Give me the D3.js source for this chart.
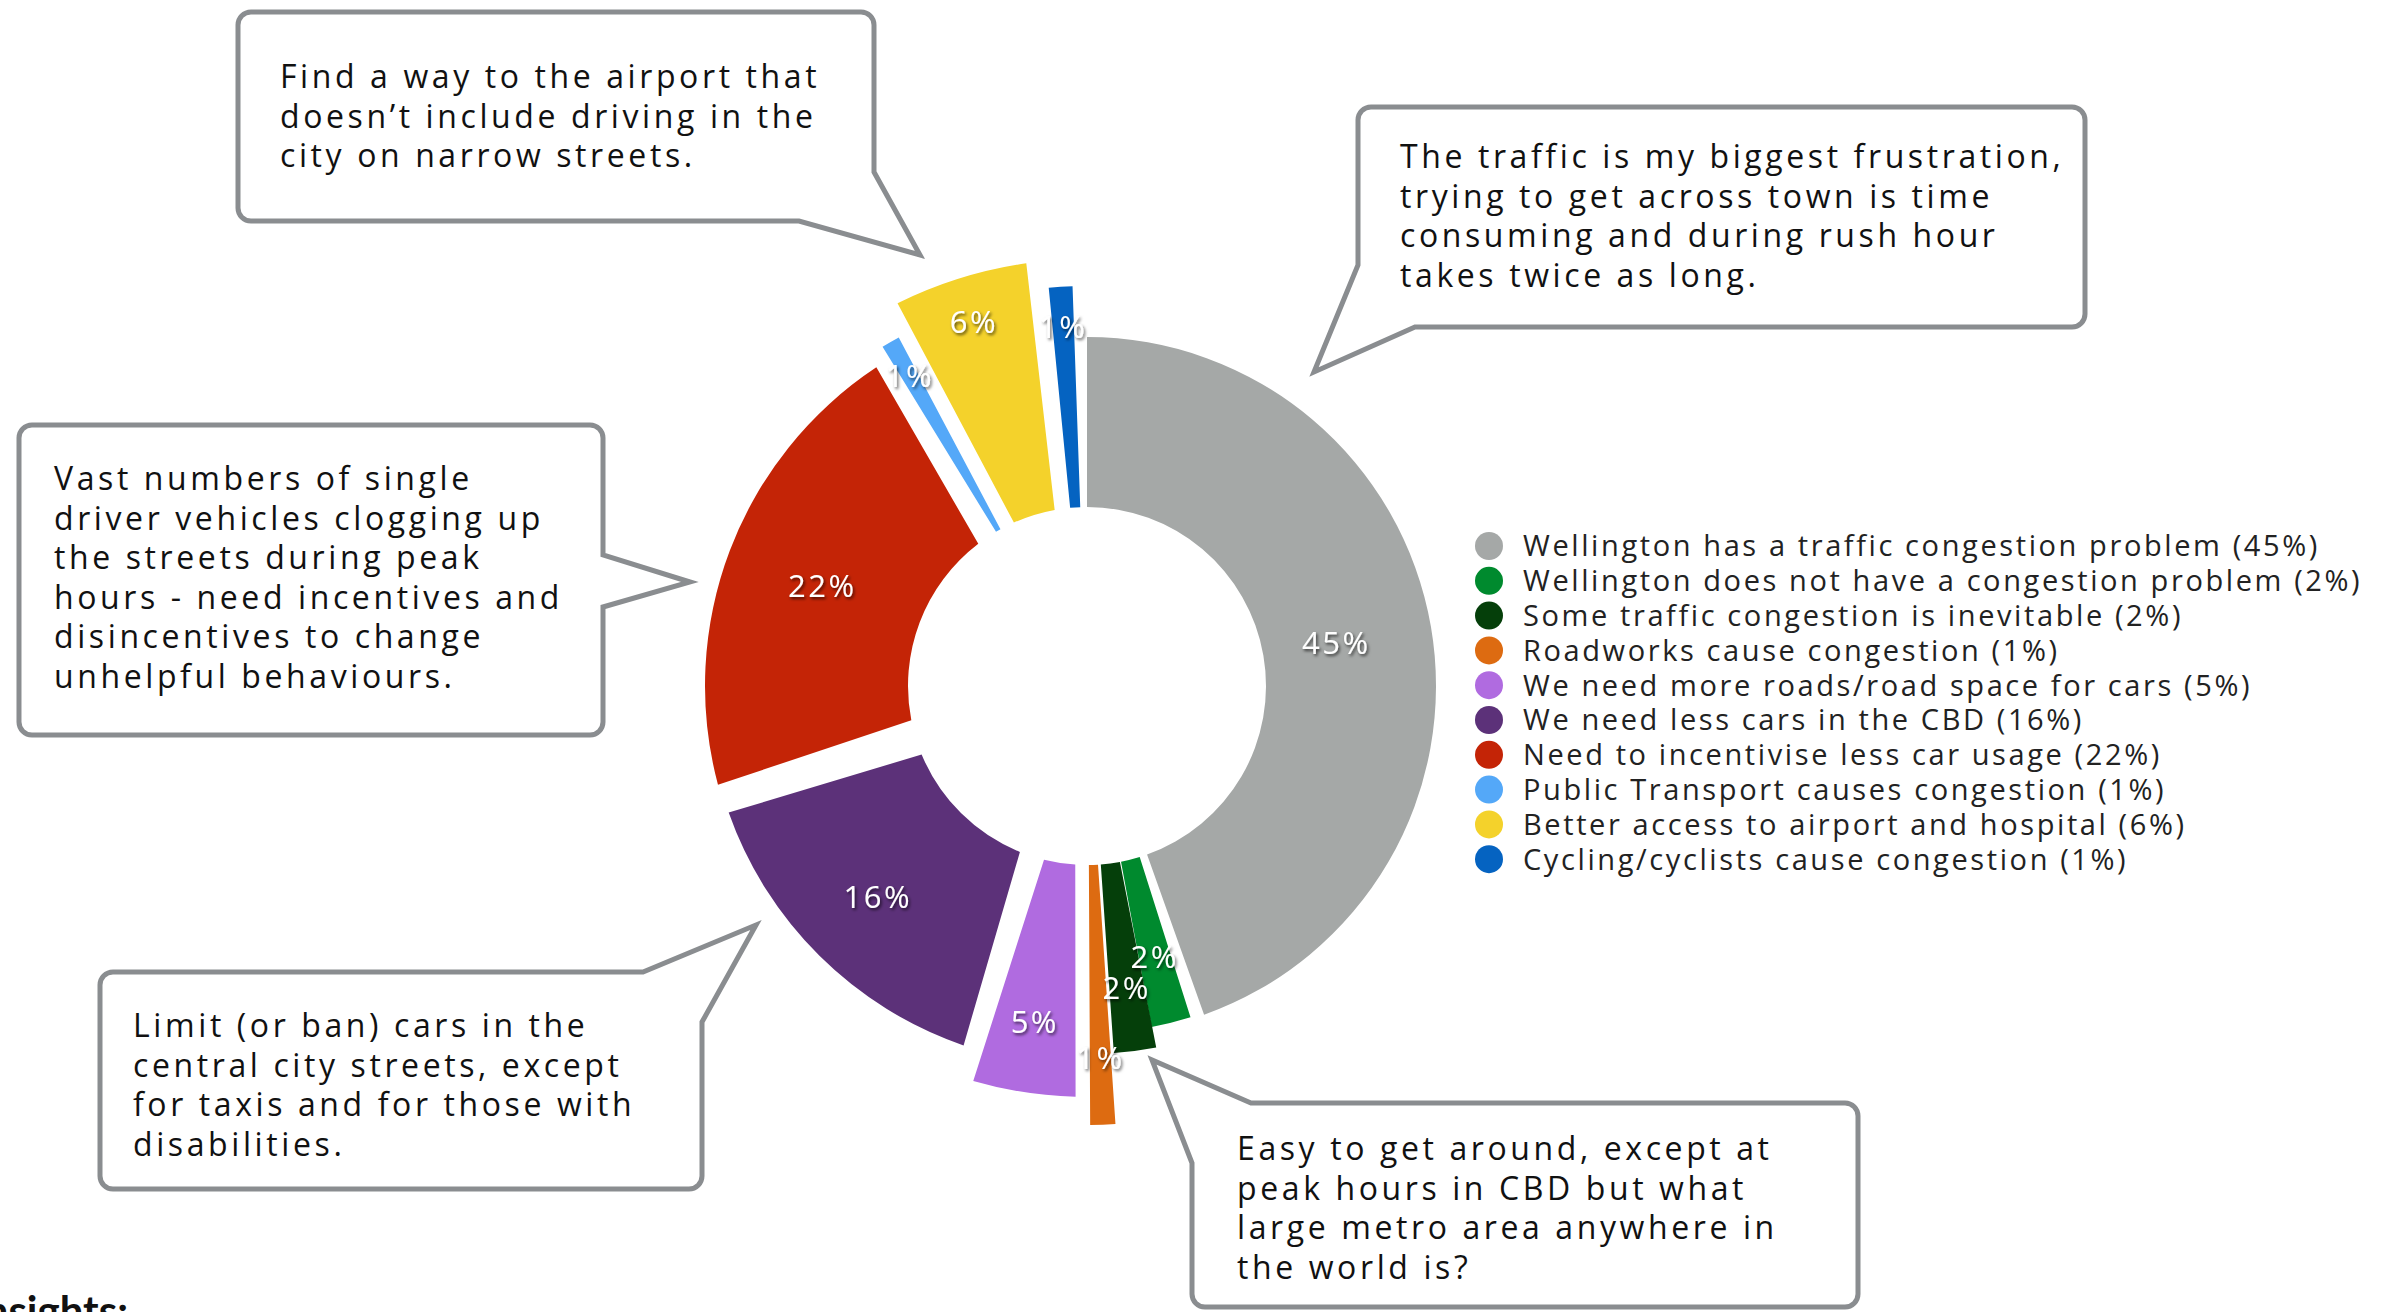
<!DOCTYPE html>
<html><head><meta charset="utf-8">
<script src="https://cdn.jsdelivr.net/npm/d3@7"></script>
<style>html,body{margin:0;padding:0;background:#fff;overflow:hidden} svg{display:block}</style>
</head><body>
<svg id="chart" width="2398" height="1312"></svg>
<script>
// ---------------- data ----------------
const categories = [
  "Wellington has a traffic congestion problem",
  "Wellington does not have a congestion problem",
  "Some traffic congestion is inevitable",
  "Roadworks cause congestion",
  "We need more roads/road space for cars",
  "We need less cars in the CBD",
  "Need to incentivise less car usage",
  "Public Transport causes congestion",
  "Better access to airport and hospital",
  "Cycling/cyclists cause congestion"
];
const values = [45, 2, 2, 1, 5, 16, 22, 1, 6, 1];
const colors = ["#A5A8A7", "#008A2E", "#053F0A", "#DD6B11", "#B06BE0",
                "#5C3179", "#C42406", "#54A8F8", "#F4D22B", "#0563C1"];

const quoteAirport = ["Find a way to the airport that", "doesn\u2019t include driving in the", "city on narrow streets."];
const quoteTraffic = ["The traffic is my biggest frustration,", "trying to get across town is time", "consuming and during rush hour", "takes twice as long."];
const quoteVast = ["Vast numbers of single", "driver vehicles clogging up", "the streets during peak", "hours - need incentives and", "disincentives to change", "unhelpful behaviours."];
const quoteLimit = ["Limit (or ban) cars in the", "central city streets, except", "for taxis and for those with", "disabilities."];
const quoteEasy = ["Easy to get around, except at", "peak hours in CBD but what", "large metro area anywhere in", "the world is?"];

// ---------------- styling ----------------
const cx = 1087, cy = 686, innerR = 179;
const sliceOuter  = [349, 347, 368, 439, 411, 380, 382, 396, 427, 400];
const slicePadPx  = [0, 1.5, 1.5, 1, 12, 18, 23, 3, 12, 0.5];
const sliceNudge  = [0, 2, 1.4, 1.5, 1.7, 0.2, -1.5, -3, -3, -2];   // degrees
const labelRadius = [253, 279, 304, 372, 340, 297, 283, 357, 381, 360];
const PAD_R = 100;
const FONT = "'Open Sans', 'Noto Sans', sans-serif";
const rad = d => d * Math.PI / 180;

const svg = d3.select("#chart");
const defs = svg.append("defs");
const f = defs.append("filter").attr("id", "shadow")
  .attr("x", "-30%").attr("y", "-30%").attr("width", "160%").attr("height", "160%");
f.append("feDropShadow").attr("dx", 1.5).attr("dy", 2).attr("stdDeviation", 1.6)
  .attr("flood-color", "#000").attr("flood-opacity", 0.65);

// ---------------- callouts (drawn first, behind) ----------------
const callouts = [
  { pts: [[874,12,1],[874,172,0],[920,255,0],[799,221,0],[238,221,1],[238,12,1]], start: [556,12],
    text: quoteAirport, tx: 280, ty: 88 },
  { pts: [[2085,107,1],[2085,327,1],[1415,327,0],[1314,372,0],[1358,265,0],[1358,107,1]], start: [1720,107],
    text: quoteTraffic, tx: 1400, ty: 168 },
  { pts: [[603,425,1],[603,555,0],[690,582,0],[603,607,0],[603,735,1],[19,735,1],[19,425,1]], start: [311,425],
    text: quoteVast, tx: 54, ty: 490 },
  { pts: [[643,972,0],[756,925,0],[702,1022,0],[702,1189,1],[100,1189,1],[100,972,1]], start: [370,972],
    text: quoteLimit, tx: 133, ty: 1037 },
  { pts: [[1858,1103,1],[1858,1307,1],[1192,1307,1],[1192,1163,0],[1152,1060,0],[1251,1103,0]], start: [1550,1103],
    text: quoteEasy, tx: 1237, ty: 1160 }
];
const cr = 13;
const cg = svg.append("g");
callouts.forEach(c => {
  const p = d3.path();
  p.moveTo(c.start[0], c.start[1]);
  c.pts.forEach((v, k) => {
    const nxt = k < c.pts.length - 1 ? c.pts[k + 1] : c.start;
    if (v[2]) p.arcTo(v[0], v[1], nxt[0], nxt[1], cr); else p.lineTo(v[0], v[1]);
  });
  p.closePath();
  cg.append("path").attr("d", p.toString())
    .attr("fill", "#fff").attr("stroke", "#8A8D90").attr("stroke-width", 5)
    .attr("stroke-linejoin", "miter");
  const t = cg.append("text")
    .style("font-family", FONT).style("font-size", "32px")
    .style("letter-spacing", "3.6px").attr("fill", "#111");
  c.text.forEach((line, k) => {
    t.append("tspan").attr("x", c.tx).attr("y", c.ty + k * 39.6).text(line);
  });
});

// ---------------- donut ----------------
const pie = d3.pie().sort(null).value(d => d)(values);
const slices = pie.map((d, i) => ({
  i,
  value: d.value,
  startAngle: d.startAngle + rad(sliceNudge[i]),
  endAngle: d.endAngle + rad(sliceNudge[i]),
  padAngle: 2 * Math.asin(slicePadPx[i] / PAD_R),
  innerRadius: innerR,
  outerRadius: sliceOuter[i]
}));
const arc = d3.arc().padRadius(PAD_R);
const g = svg.append("g").attr("transform", `translate(${cx},${cy})`);
g.selectAll("path.slice").data(slices).join("path")
  .attr("class", "slice")
  .attr("d", arc)
  .attr("fill", d => colors[d.i]);

g.selectAll("text.pct").data(slices).join("text")
  .attr("class", "pct")
  .attr("transform", d => {
    const la = d3.arc().innerRadius(labelRadius[d.i]).outerRadius(labelRadius[d.i]);
    const [x, y] = la.centroid(d);
    return `translate(${x},${y})`;
  })
  .attr("text-anchor", "middle")
  .attr("dy", "0.36em")
  .attr("fill", "#fff")
  .attr("filter", "url(#shadow)")
  .style("font-family", FONT)
  .style("font-size", "31px")
  .style("letter-spacing", "2.5px")
  .text(d => d.value + "%");

// ---------------- legend ----------------
const legend = svg.append("g").attr("transform", "translate(1489,546)");
const rowH = 34.8;
const rows = legend.selectAll("g").data(categories).join("g")
  .attr("transform", (d, i) => `translate(0,${i * rowH})`);
rows.append("circle").attr("r", 14).attr("fill", (d, i) => colors[i]);
rows.append("text").attr("x", 34).attr("dy", "0.36em")
  .style("font-family", FONT)
  .style("font-size", "29px").style("letter-spacing", "2.6px").attr("fill", "#222")
  .text((d, i) => `${d} (${values[i]}%)`);

// ---------------- cut-off heading ----------------
svg.append("text").attr("x", 128).attr("y", 1326).attr("text-anchor", "end")
  .style("font-family", "Lato, sans-serif").style("font-weight", "bold")
  .style("font-size", "42px").attr("fill", "#111").text("Insights:");
</script>
</body></html>
